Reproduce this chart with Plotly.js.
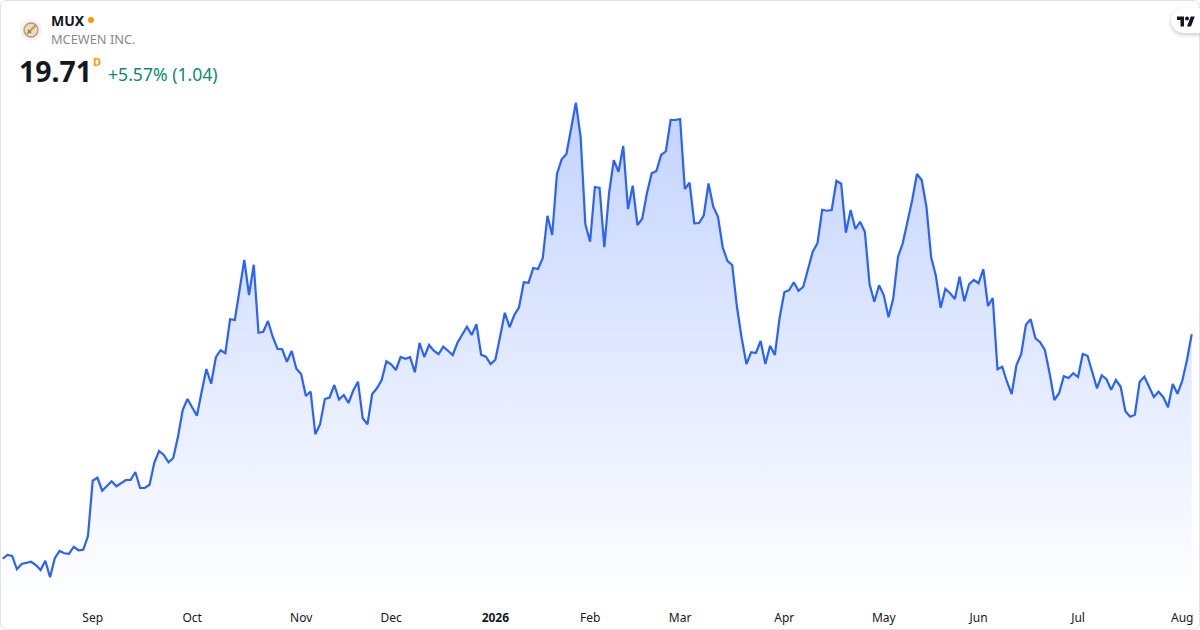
<!DOCTYPE html>
<html><head><meta charset="utf-8">
<script src="https://cdn.plot.ly/plotly-3.0.1.min.js"></script>
<style>
html,body{margin:0;padding:0;background:#fff;width:1200px;height:630px;overflow:hidden}
#wrap{position:relative;width:1200px;height:630px}
#chart{position:absolute;left:0;top:0;width:1200px;height:630px}
#frame{position:absolute;left:0;top:0;width:1198px;height:628px;border:1px solid #e0e3eb;border-radius:6px;pointer-events:none}
#pill{position:absolute;left:1171px;top:8px;width:29px;height:25px;background:#fff;border-radius:13px 0 0 13px;box-shadow:0 2px 4px rgba(0,0,0,.2)}
#tv{position:absolute;left:1177px;top:14px}
#icon{position:absolute;left:20px;top:19px}
</style></head><body>
<div id="wrap">
<div id="chart"></div>
<div id="frame"></div>
<div id="pill"></div>
<svg id="tv" width="18" height="14" viewBox="0 0 36 26"><path fill="#131722" d="M14 24H7V11H0V4h14v20zM28 24h-8l7.5-20h8L28 24z"/><circle fill="#131722" cx="20" cy="8" r="4"/></svg>
<svg id="icon" width="22" height="22" viewBox="0 0 22 22"><circle cx="11" cy="11" r="11" fill="#f0f3fa"/><circle cx="11" cy="11" r="7" fill="#e9dcc0" stroke="#b39a6b" stroke-width="1.3"/><path d="M7 15L16 6" stroke="#c49a4a" stroke-width="2"/><path d="M8 11l3 3" stroke="#8a7650" stroke-width="1.5"/></svg>
</div>
<script>
const closes = [10.73,10.88,10.84,10.31,10.52,10.57,10.61,10.48,10.28,10.65,9.99,10.75,11.04,10.95,10.93,11.21,11.07,11.09,11.64,13.85,
13.97,13.45,13.64,13.83,13.63,13.77,13.88,13.88,14.20,13.56,13.56,13.69,14.57,15.04,14.88,14.59,14.76,15.61,16.68,17.12,
16.81,16.45,17.41,18.32,17.73,18.79,19.07,18.95,20.31,20.28,21.48,22.68,21.28,22.49,19.77,19.81,20.24,19.61,19.13,19.11,
18.61,19.04,18.33,18.12,17.24,17.42,15.71,16.11,17.12,17.18,17.68,17.10,17.28,16.96,17.46,17.81,16.35,16.11,17.32,17.55,
17.88,18.63,18.51,18.28,18.80,18.73,18.79,18.19,19.36,18.80,19.28,19.05,18.91,19.21,19.05,18.88,19.37,19.68,20.01,19.68,
20.11,18.89,18.81,18.52,18.69,19.61,20.57,19.99,20.48,20.79,21.79,21.77,22.36,22.32,22.75,24.45,23.68,26.12,26.71,26.92,
27.95,28.97,27.61,24.11,23.41,25.60,25.56,23.19,25.35,26.67,26.21,27.24,24.72,25.65,24.08,24.33,25.35,26.15,26.24,26.88,
27.03,28.28,28.28,28.32,25.52,25.77,24.15,24.16,24.47,25.74,24.81,24.41,23.18,22.64,22.48,20.81,19.55,18.52,18.99,18.96,
19.44,18.52,19.25,18.88,20.36,21.39,21.47,21.79,21.45,21.61,22.31,23.01,23.35,24.69,24.65,24.68,25.85,25.73,23.77,24.68,
23.92,24.21,23.81,21.71,21.01,21.67,21.27,20.39,21.15,22.81,23.35,24.15,25.08,26.12,25.88,24.81,22.79,22.04,20.77,21.53,
21.35,21.12,22.01,21.03,21.71,21.88,21.75,22.31,20.84,21.16,18.31,18.41,17.81,17.32,18.48,18.91,20.09,20.31,19.55,19.39,
19.08,18.15,17.08,17.35,18.03,17.96,18.15,18.00,18.92,18.85,18.21,17.55,18.07,17.91,17.49,17.88,17.61,16.63,16.41,16.49,
17.80,18.01,17.61,17.20,17.41,17.20,16.79,17.72,17.33,17.84,18.68,19.71];
const tickPositions = [19,40,63,82,104,124,143,165,186,206,227,249];
const tickLabels = ['Sep','Oct','Nov','Dec','<b>2026</b>','Feb','Mar','Apr','May','Jun','Jul','Aug'];
const sessions = closes.map((_, i) => i);
const font = '"Noto Sans", "Open Sans", sans-serif';
const W = 1200, PH = 600;
const px = p => p / W, py = p => 1 - p / PH;
function label(text, x, y, size, color, anchor, weight) {
  return {text: weight ? '<b>' + text + '</b>' : text, xref: 'paper', yref: 'paper', x: px(x), y: py(y),
    xanchor: anchor || 'left', yanchor: 'middle', showarrow: false,
    font: {family: font, size: size, color: color}};
}
Plotly.newPlot('chart', [{
  x: sessions, y: closes, type: 'scatter', mode: 'lines', hoverinfo: 'skip',
  line: {color: '#2962FF', width: 2.2, shape: 'linear'},
  fill: 'tozeroy',
  fillgradient: {type: 'vertical', start: 9.08, stop: 28.97,
    colorscale: [[0, 'rgba(41,98,255,0)'], [1, 'rgba(41,98,255,0.28)']]}
}], {
  width: 1200, height: 630, margin: {l: 0, r: 0, t: 0, b: 30},
  paper_bgcolor: '#fff', plot_bgcolor: '#fff', showlegend: false,
  xaxis: {range: [-0.57, 252.75], tickvals: tickPositions, ticktext: tickLabels, ticks: '', showgrid: false,
    zeroline: false, showline: false, ticklabelstandoff: 9,
    tickfont: {family: font, size: 12, color: '#131722'}, fixedrange: true, automargin: false},
  yaxis: {range: [9.08, 33.08], visible: false, fixedrange: true},
  shapes: [{type: 'circle', xref: 'paper', yref: 'paper', x0: px(88), x1: px(94), y0: py(23), y1: py(17),
    fillcolor: '#ff9800', line: {width: 0}}],
  annotations: [
    label('MUX', 49, 20.5, 14, '#131722', 'left', true),
    label('MCEWEN INC.', 49, 39.5, 12.8, '#868993'),
    label('19.71', 17, 71, 28.4, '#131722', 'left', true),
    label('D', 91, 61, 11, '#ff9800', 'left', true),
    label('+5.57% (1.04)', 106, 74.5, 17.6, '#0b8a73')
  ]
}, {displayModeBar: false, staticPlot: true});
</script>
</body></html>
